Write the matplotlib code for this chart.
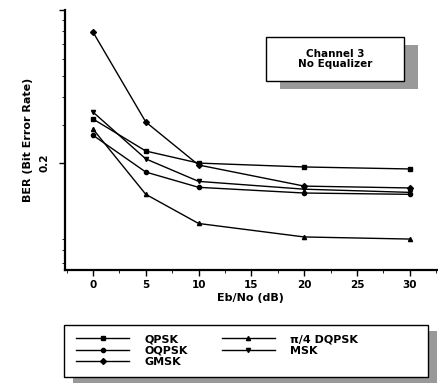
import matplotlib.pyplot as plt
import matplotlib.patches as mpatches
from matplotlib.ticker import FixedLocator, MultipleLocator, NullFormatter

plt.rcParams['font.family'] = ['DejaVu Sans']
plt.rcParams['font.weight'] = 'bold'

ebno = [0, 5, 10, 20, 30]
qpsk = [0.318, 0.227, 0.200, 0.192, 0.188]
oqpsk = [0.268, 0.182, 0.155, 0.146, 0.144]
gmsk = [0.793, 0.308, 0.196, 0.157, 0.154]
dqpsk = [0.286, 0.144, 0.106, 0.092, 0.090]
msk = [0.342, 0.209, 0.165, 0.152, 0.147]

fig = plt.figure(figsize=(4.39, 3.83), dpi=100)
ax = fig.add_axes([0.148, 0.295, 0.847, 0.679])

kw = dict(color='black', lw=1.0, markersize=3)
l1, = ax.plot(ebno, qpsk, marker='s', label='QPSK', **kw)
l2, = ax.plot(ebno, oqpsk, marker='o', label='OQPSK', **kw)
l3, = ax.plot(ebno, gmsk, marker='D', label='GMSK', **kw)
l4, = ax.plot(ebno, dqpsk, marker='^', label='π/4 DQPSK', **kw)
l5, = ax.plot(ebno, msk, marker='v', label='MSK', **kw)

ax.set_yscale('log')
ax.set_ylim(0.065, 1.0)
ax.set_xlim(-2.65, 32.55)
ax.yaxis.set_major_locator(FixedLocator([0.2, 1.0]))
ax.set_yticklabels(['0.2', ''])
ax.yaxis.set_minor_formatter(NullFormatter())
ax.xaxis.set_minor_locator(MultipleLocator(2.5))
ax.set_xticks([0, 5, 10, 15, 20, 25, 30])

for s in ['top', 'right']:
    ax.spines[s].set_visible(False)
for s in ['left', 'bottom']:
    ax.spines[s].set_linewidth(1.6)

ax.tick_params(axis='both', which='major', direction='out', length=4, width=1, labelsize=7.5)
ax.tick_params(axis='y', which='major', pad=7)
ax.tick_params(axis='both', which='minor', direction='out', length=2, width=0.6)
for t in ax.get_yticklabels():
    t.set_rotation(90)
    t.set_va('center')

ax.set_xlabel('Eb/No (dB)', fontsize=8, fontweight='bold', labelpad=2)
ax.set_ylabel('BER (Bit Error Rate)', fontsize=8, fontweight='bold', labelpad=5)

W, H = 439.0, 383.0

def fig_rect(x0, y0, x1, y1, **k):
    return mpatches.Rectangle((x0 / W, 1 - y1 / H), (x1 - x0) / W, (y1 - y0) / H,
                              transform=fig.transFigure, **k)

# channel text box with shadow
fig.patches.append(fig_rect(280, 45, 418, 89, facecolor='0.6', edgecolor='none', zorder=1))
fig.patches.append(fig_rect(266, 37, 404, 81, facecolor='white', edgecolor='black', lw=1, zorder=2))
fig.text(335 / W, 1 - 59 / H, 'Channel 3\nNo Equalizer', ha='center', va='center',
         fontsize=7.5, fontweight='bold', linespacing=1.1)

# legend box with shadow
fig.patches.append(fig_rect(73, 331, 437, 383, facecolor='0.6', edgecolor='none', zorder=1))
fig.patches.append(fig_rect(64, 325, 428, 377, facecolor='white', edgecolor='black', lw=1, zorder=2))
leg = fig.legend(handles=[l1, l2, l3, l4, l5], ncol=2, loc='upper left',
                 bbox_to_anchor=(76 / W, 1 - 334 / H), frameon=False, fontsize=8,
                 handlelength=4.8, columnspacing=3.0, labelspacing=0.15,
                 handletextpad=1.4, borderpad=0, borderaxespad=0)
leg.set_zorder(3)

fig.savefig('out.png', dpi=100)
